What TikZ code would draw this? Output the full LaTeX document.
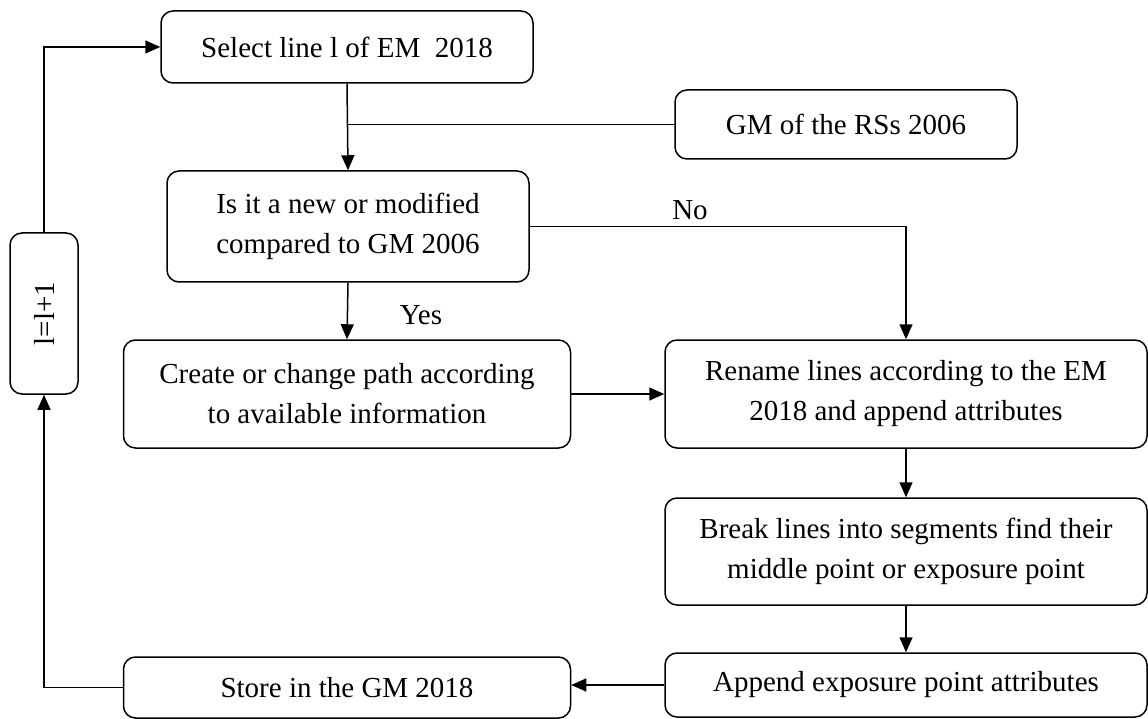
\documentclass[tikz,border=0pt]{standalone}
\usepackage{fontspec}
\usepackage{graphicx}
\setmainfont{Liberation Serif}
\usetikzlibrary{arrows.meta}
\tikzset{
  box/.style={draw, line width=1.5pt, rounded corners=12pt, align=center,
    inner sep=0pt, font=\fontsize{29}{40}\selectfont},
  arr/.style={line width=1.5pt, -{Triangle[length=15pt,width=13pt]}},
  lbl/.style={font=\fontsize{29}{40}\selectfont, inner sep=0pt}
}
\begin{document}
\begin{tikzpicture}[x=1pt, y=-1pt]
\useasboundingbox (0,0) rectangle (1148,719);

% process boxes
\node[box, minimum width=372, minimum height=72] (sel) at (347,47) {Select line l of EM\ \ 2018};
\node[box, minimum width=342, minimum height=69] (gm) at (846,124.5) {GM of the RSs 2006};
\node[box, minimum width=362, minimum height=111] (q) at (348,226.5) {Is it a new or modified\\compared to GM 2006};
\node[box, minimum width=447, minimum height=108] (cr) at (347,394) {Create or change path according\\to available information};
\node[box, minimum width=482, minimum height=108] (ren) at (906,394) {Rename lines according to the EM\\2018 and append attributes};
\node[box, minimum width=482, minimum height=107] (brk) at (906,551.5) {Break lines into segments find their\\middle point or exposure point};
\node[box, minimum width=482, minimum height=64] (app) at (906,685) {Append exposure point attributes};
\node[box, minimum width=447, minimum height=61] (st) at (347,687.5) {Store in the GM 2018};
\node[box, minimum width=68, minimum height=161] (inc) at (44,313.5) {\rotatebox{90}{l=l+1}};

% connectors
\draw[arr] (sel.south) -- (q.north);
\draw[line width=1.5pt] (gm.west) -- (gm.west -| sel.south);
\draw[arr] (q.east) -| (ren.north);
\node[lbl] (no) at (690,210) {No};
\draw[arr] (q.south) -- (cr.north);
\node[lbl] (yes) at (421,315) {Yes};
\draw[arr] (cr.east) -- (cr.east -| ren.west);
\draw[arr] (ren.south) -- (brk.north);
\draw[arr] (brk.south) -- (app.north);
\draw[arr] (app.west) -- (app.west -| st.east);
\draw[arr] (st.west) -| (inc.south);
\draw[arr] (inc.north) |- (sel.west);
\end{tikzpicture}
\end{document}
